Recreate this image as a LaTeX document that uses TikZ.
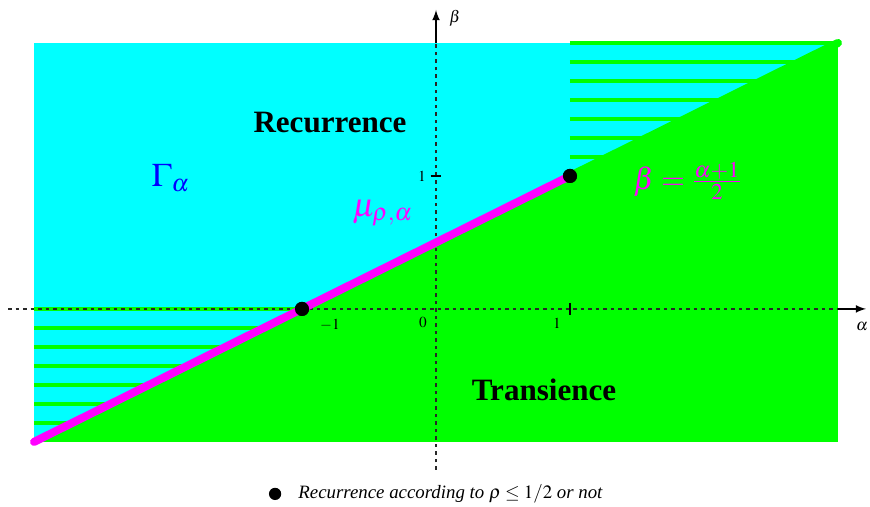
\documentclass[tikz,border=0pt]{standalone}
\usepackage{mathptmx}
\usepackage{fontspec}
\setmainfont{Liberation Serif}
\definecolor{cyanA}{RGB}{0,255,255}
\definecolor{greenA}{RGB}{0,255,0}
\definecolor{magA}{RGB}{255,0,255}
\definecolor{blueA}{RGB}{0,0,255}
\definecolor{axisgray}{RGB}{40,40,40}
\begin{document}
\begin{tikzpicture}[x=2cm,y=1.985cm,
  hatch/.style={greenA,line width=1.5pt},
  axisline/.style={axisgray,line width=0.5pt,dash pattern=on 1.5pt off 1.7pt},
  axisarrow/.style={black,line width=0.5pt,-latex},
  bigdot/.style={circle,fill=black,inner sep=0pt,minimum size=6pt},
  region/.style={font=\fontsize{13.2}{15}\selectfont\bfseries},
  mlabel/.style={font=\fontsize{14}{16}\selectfont,inner sep=1pt},
  ticklab/.style={font=\fontsize{6.5}{8}\selectfont,inner sep=0pt},
  axlab/.style={font=\fontsize{7}{8}\selectfont,inner sep=0pt}]
\useasboundingbox (-3.254,-1.489) rectangle (3.239,2.323);
% regions
\fill[cyanA] (-3,-1) rectangle (3,2);
\fill[greenA] (-3,-1) -- (3,-1) -- (3,2) -- cycle;
% hatching
\foreach \k in {0,...,6}{
  \pgfmathsetmacro{\bu}{2-\k/7}
  \pgfmathsetmacro{\eu}{2*\bu-1}
  \draw[hatch] (1,\bu) -- (\eu,\bu);
  \pgfmathsetmacro{\bl}{-\k/7}
  \pgfmathsetmacro{\el}{2*\bl-1}
  \draw[hatch] (-3,\bl) -- (\el,\bl);
}
% axes
\coordinate (xs) at (-3.194,0);
\coordinate (xm) at (3.0,0);
\coordinate (xe) at (3.209,0);
\coordinate (ys) at (0,-1.21);
\coordinate (ym) at (0,2.0);
\coordinate (ye) at (0,2.248);
\draw[axisline] (xs) -- (xm);
\draw[axisarrow] (xm) -- (xe);
\draw[axisline] (ys) -- (ym);
\draw[axisarrow] (ym) -- (ye);
\node[axlab] (alab) at (3.179,-0.13) {$\alpha$};
\node[axlab] (blab) at (0.142,2.188) {$\beta$};
% ticks
\coordinate (tx1a) at (1,0.045); \coordinate (tx1b) at (1,-0.045);
\coordinate (ty1a) at (-0.04,1); \coordinate (ty1b) at (0.04,1);
\draw[black,line width=0.5pt] (tx1a) -- (tx1b);
\draw[black,line width=0.5pt] (ty1a) -- (ty1b);
\node[ticklab] (ly1) at (-0.104,1) {$1$};
\node[ticklab] (lxm1) at (-0.791,-0.12) {$-1$};
\node[ticklab] (lx0) at (-0.097,-0.105) {$0$};
\node[ticklab] (lx1) at (0.903,-0.105) {$1$};
% boundary line
\coordinate (p0) at (-3,-1);
\coordinate (p3) at (3,2);
\node[bigdot] (d1) at (-1,0) {};
\node[bigdot] (d2) at (1,1) {};
\draw[magA,line width=3.4pt,line cap=round] (p0) -- (d2.center);
\draw[greenA,line width=3.4pt,line cap=round] (d2.center) -- (p3);
\node[bigdot] at (d1) {};
\node[bigdot] at (d2) {};
% labels
\node[region] (rec) at (-0.791,1.398) {Recurrence};
\node[region] (tra) at (0.806,-0.609) {Transience};
\node[mlabel,text=blueA] (gam) at (-1.978,0.985) {$\Gamma_\alpha$};
\node[mlabel,text=magA] (mu) at (-0.396,0.72) {$\mu_{\rho,\alpha}$};
\node[mlabel,text=magA,font=\fontsize{13}{15}\selectfont] (form) at (1.881,0.962) {$\beta=\frac{\alpha+1}{2}$};
% legend
\node[bigdot,minimum size=5.2pt] (ldot) at (-1.201,-1.391) {};
\node[anchor=west,inner sep=0pt,font=\fontsize{8}{10}\selectfont\itshape] (ltext) at (-1.03,-1.391) {Recurrence according to $\rho\leq1/2$ or not};
\end{tikzpicture}
\end{document}
